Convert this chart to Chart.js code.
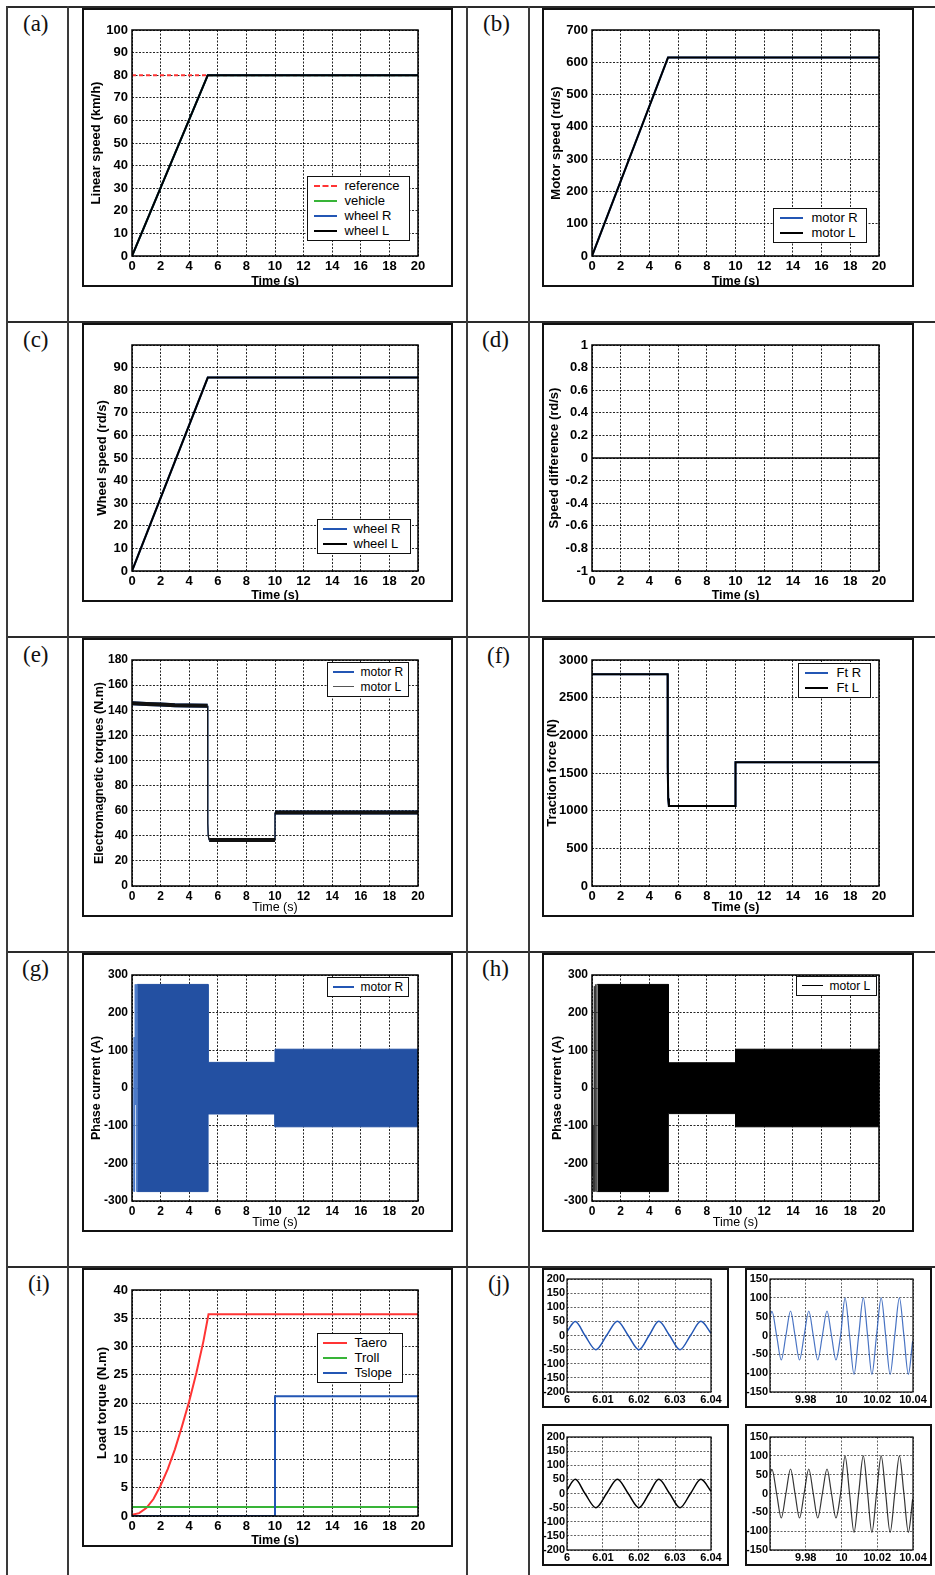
<!DOCTYPE html>
<html>
<head>
<meta charset="utf-8">
<script src="https://cdn.jsdelivr.net/npm/chart.js@4.4.1/dist/chart.umd.min.js"></script>
<style>
  body { margin: 0; background: #fff; }
  #page { position: relative; width: 935px; height: 1575px; overflow: hidden; background: #fff; }
  .line { position: absolute; background: #2a2a2a; }
  .frame { position: absolute; border: 2px solid #111; box-sizing: border-box; background: #fff; }
  .frame canvas { position: absolute; left: 0; top: 0; }
  .tag { position: absolute; font-family: 'Liberation Serif', 'DejaVu Serif', serif; font-size: 23px; line-height: 1; color: #111; }
  .legend { position: absolute; border: 1.5px solid #111; background: #fff; box-sizing: border-box;
            padding: 1px 0 2px; font-family: 'Liberation Sans', Arial, sans-serif; color: #000; }
  .legend .row { display: flex; align-items: center; height: 15px; white-space: nowrap; }
  .legend .swatch { height: 0; }
</style>
</head>
<body>
<div id="page"></div>
<script>
// ---------- data ----------
// (a) linear speed, km/h
const refTime = [0, 20];
const refSpeed = [80, 80];
const rampTime = [0, 5.3, 20];
const vehicleSpeed = [0, 80, 80];
const wheelRKmh = [0, 80, 80];
const wheelLKmh = [0, 80, 80];

// (b) motor speed, rd/s
const motorRSpeed = [0, 615, 615];
const motorLSpeed = [0, 615, 615];

// (c) wheel speed, rd/s
const wheelRSpeed = [0, 85.6, 85.6];
const wheelLSpeed = [0, 85.6, 85.6];

// (d) speed difference
const diffTime = [0, 20];
const diffSpeed = [0, 0];

// (e) electromagnetic torques, N.m
const torqueTime = [0, 1, 2, 3, 4, 5.29, 5.3, 5.33, 5.4, 10, 10, 20];
const torqueR = [145.5, 145, 144.5, 144, 143.8, 143.5, 50, 40, 36.6, 36.6, 58.5, 58.5];
const torqueL = [145.5, 145, 144.5, 144, 143.8, 143.5, 50, 40, 36.6, 36.6, 58.5, 58.5];

// (f) traction force, N
const forceTime = [0, 5.27, 5.28, 5.31, 5.36, 10, 10, 20];
const forceR = [2810, 2810, 1580, 1160, 1062, 1062, 1642, 1642];
const forceL = [2810, 2810, 1580, 1160, 1062, 1062, 1642, 1642];

// (g), (h) phase current envelopes, A
const envTime = [0.37, 5.32, 5.32, 10, 10, 20];
const phaseRUpper = [275, 275, 68, 68, 103, 103];
const phaseRLower = [-275, -275, -69, -69, -103, -103];
const startTimeR = [0, 0.05, 0.09, 0.14, 0.18, 0.22, 0.26, 0.3, 0.34, 0.37];
const startCurrentR = [0, -190, -275, 135, -275, 275, -45, 275, -275, 275];
const phaseLUpper = [275, 275, 67, 67, 103, 103];
const phaseLLower = [-275, -275, -68, -68, -103, -103];
const startTimeL = [0, 0.04, 0.08, 0.12, 0.16, 0.2, 0.24, 0.28, 0.32, 0.37];
const startCurrentL = [0, -230, -100, -275, 270, -275, 275, -275, 275, 275];

// (i) load torques, N.m
const aeroTime = [0, 0.5, 1, 1.5, 2, 2.5, 3, 3.5, 4, 4.5, 5, 5.35, 20];
const aeroTorque = [0.2, 0.5, 1.4, 3.0, 5.4, 8.3, 11.8, 15.9, 20.3, 25.3, 31.0, 35.7, 35.7];
const rollTime = [0, 20];
const rollTorque = [1.6, 1.6];
const slopeTime = [0, 10, 10, 20];
const slopeTorque = [0, 0, 21.2, 21.2];

// (j) zoomed phase currents around t = 6 s and t = 10 s
const zoom6Time = [6.000, 6.0023, 6.005, 6.008, 6.011, 6.014, 6.017, 6.020, 6.0228, 6.0255, 6.0285, 6.0314, 6.0343, 6.0372, 6.040];
const zoom6R = [14, 50, 0, -50, 0, 50, 0, -50, 0, 50, 0, -50, 0, 50, 8];
const zoom6L = [13, 50, 0, -50, 0, 50, 0, -50, 0, 50, 0, -50, 0, 50, 8];
const zoom10Time = [9.9602, 9.9611, 9.9637, 9.9663, 9.9689, 9.9715, 9.9740, 9.9765, 9.9791, 9.9817, 9.9842,
  9.9867, 9.9893, 9.9919, 9.9944, 9.9969, 9.9995, 10.0020, 10.0045, 10.0070, 10.0096, 10.0122, 10.0146,
  10.0170, 10.0196, 10.0222, 10.0247, 10.0272, 10.0298, 10.0324, 10.0349, 10.0374, 10.0398];
const zoom10R = [55, 64, 0, -65, 0, 65, 0, -65, 0, 65, 0, -65, 0, 65, 0, -65, 0, 99, 0, -103, 0, 100, 0,
  -103, 0, 100, 0, -103, 0, 100, 0, -103, -15];
const zoom10L = [55, 64, 0, -65, 0, 65, 0, -65, 0, 65, 0, -65, 0, 65, 0, -65, 0, 99, 0, -103, 0, 100, 0,
  -103, 0, 100, 0, -103, 0, 100, 0, -103, -15];

// ---------- styling ----------
const FONT = "'Liberation Sans', Arial, Helvetica, sans-serif";
const RED = '#ff3434';
const GREEN = '#38b438';
const BLUE = '#2356b4';
const BAND_BLUE = '#2350a2';

Chart.defaults.font.family = FONT;
Chart.defaults.color = '#000';
Chart.defaults.animation = false;
Chart.defaults.plugins.legend.display = false;
Chart.defaults.plugins.tooltip.enabled = false;

// solid box round the plot area, like a MATLAB axes
Chart.register({
  id: 'axesBox',
  afterDatasetsDraw(chart) {
    const { ctx, chartArea: a } = chart;
    ctx.save();
    ctx.strokeStyle = '#000';
    ctx.lineWidth = chart.canvas.width < 250 ? 1.2 : 1.5;
    ctx.strokeRect(a.left, a.top, a.right - a.left, a.bottom - a.top);
    ctx.restore();
  }
});

const page = document.getElementById('page');

function el(cls, css, text) {
  const d = document.createElement('div');
  d.className = cls;
  Object.assign(d.style, css);
  if (text) d.textContent = text;
  page.appendChild(d);
  return d;
}

// table rules
[7, 322, 637, 952, 1267].forEach(y => el('line', { left: '7px', top: (y - 1) + 'px', width: '928px', height: '2px' }));
[7, 68, 467, 529].forEach(x => el('line', { left: (x - 1) + 'px', top: '6px', width: '2px', height: '1569px', background: '#3a3a3a' }));

// panel tags
[['(a)', 23, 12], ['(b)', 483, 12], ['(c)', 23, 328], ['(d)', 482, 328], ['(e)', 23, 643],
 ['(f)', 487, 644], ['(g)', 22, 957], ['(h)', 482, 957], ['(i)', 28, 1272], ['(j)', 488, 1272]]
  .forEach(([t, x, y]) => el('tag', { left: x + 'px', top: y + 'px' }, t));

function pts(xs, ys) {
  return xs.map((x, i) => ({ x, y: ys[i] }));
}

function line(label, xs, ys, color, width, extra) {
  return Object.assign({
    label, data: pts(xs, ys), borderColor: color, backgroundColor: color,
    borderWidth: width, pointRadius: 0, fill: false, tension: 0
  }, extra || {});
}

const fmt = v => String(+(+v).toFixed(3));

function addFrame(x, y, w, h) {
  const f = el('frame', { left: x + 'px', top: y + 'px', width: w + 'px', height: h + 'px' });
  const c = document.createElement('canvas');
  c.width = w - 4;
  c.height = h - 4;
  f.appendChild(c);
  return c;
}

function axis(o) {
  return {
    type: 'linear', min: o.min, max: o.max,
    ticks: {
      stepSize: o.step, autoSkip: false, maxRotation: 0, padding: o.tickPad,
      color: '#000', font: o.tickFont, callback: o.cb || fmt
    },
    grid: { color: o.gridColor, lineWidth: 1, drawTicks: false },
    border: { display: false, dash: [2, 1.5] },
    title: o.title
      ? { display: true, text: o.title, color: '#000', font: o.titleFont, padding: o.titlePad }
      : { display: false },
    afterFit: o.fit
  };
}

function plotPanel(frame, p) {
  const canvas = addFrame(...frame);
  const small = !!p.small;
  const tickFont = small ? { size: 11, weight: 'bold' } : { size: p.tickSize || 13, weight: 'bold' };
  const gridColor = small ? 'rgba(0,0,0,0.6)' : 'rgba(0,0,0,0.85)';
  const pad = p.pad || [48, 20, 33, 29];   // left, top, right, bottom
  const ySize = p.yTitleSize || 13;
  const xSize = 12.5;
  p.datasets.forEach((d, i) => { d.order = p.datasets.length - i; });
  const chart = new Chart(canvas, {
    type: 'line',
    data: { datasets: p.datasets },
    options: {
      responsive: false,
      layout: { padding: { left: 0, top: pad[1], right: pad[2], bottom: 0 } },
      scales: {
        x: axis({
          min: p.x ? p.x.min : 0, max: p.x ? p.x.max : 20, step: p.x ? p.x.step : 2,
          cb: p.x && p.x.cb, tickPad: small ? 1 : 3, tickFont, gridColor,
          title: small ? null : 'Time (s)',
          titleFont: { size: xSize, weight: p.xTitleWeight || 'bold', lineHeight: 1 },
          titlePad: { top: 0, bottom: (p.xOff || 3) - xSize / 2 },
          fit: s => { s.height = pad[3]; }
        }),
        y: axis({
          min: p.y.min, max: p.y.max, step: p.y.step, cb: p.y.cb,
          tickPad: small ? 2 : 4, tickFont, gridColor,
          title: p.yTitle,
          titleFont: { size: ySize, weight: 'bold', lineHeight: 1 },
          titlePad: { top: (p.yOff || 12) - ySize / 2, bottom: 0 },
          fit: s => { s.width = pad[0]; }
        })
      }
    }
  });
  if (p.legend) addLegend(chart, p.legend);
  return chart;
}

// legend box: [left, top, width, font size, swatch left margin, swatch width, gap to text]
function addLegend(chart, [x, y, w, size, ml, sw, gap]) {
  const box = el('legend', { left: x + 'px', top: y + 'px', width: w + 'px', fontSize: size + 'px' });
  chart.data.datasets.filter(d => d.inLegend !== false)
    .sort((a, b) => b.order - a.order)
    .forEach(d => {
      const row = document.createElement('div');
      row.className = 'row';
      const s = document.createElement('span');
      s.className = 'swatch';
      s.style.width = sw + 'px';
      s.style.margin = '0 ' + gap + 'px 0 ' + ml + 'px';
      const width = d.legendWidth || Math.min(d.borderWidth, 2);
      s.style.borderTop = width + 'px ' + (d.borderDash ? 'dashed ' : 'solid ') + (d.legendColor || d.borderColor);
      const tx = document.createElement('span');
      tx.textContent = d.label;
      row.append(s, tx);
      box.appendChild(row);
    });
}

const steep = c => Math.abs(c.p1.parsed.y - c.p0.parsed.y) > 3 ? 1.2 : undefined;

// (a)
plotPanel([82, 8, 371, 279], {
  y: { min: 0, max: 100, step: 10 }, yTitle: 'Linear speed (km/h)', yOff: 12, xOff: 3,
  datasets: [
    line('reference', refTime, refSpeed, RED, 2, { borderDash: [4, 3] }),
    line('vehicle', rampTime, vehicleSpeed, GREEN, 2),
    line('wheel R', rampTime, wheelRKmh, BLUE, 2),
    line('wheel L', rampTime, wheelLKmh, '#000', 2)
  ],
  legend: [307, 176, 103, 13, 5.5, 23, 8]
});

// (b)
plotPanel([542, 8, 372, 279], {
  y: { min: 0, max: 700, step: 100 }, yTitle: 'Motor speed (rd/s)', yOff: 12, xOff: 3,
  datasets: [
    line('motor R', rampTime, motorRSpeed, BLUE, 2),
    line('motor L', rampTime, motorLSpeed, '#000', 2)
  ],
  legend: [773, 208, 94, 13, 5.5, 23, 9]
});

// (c)
plotPanel([82, 323, 371, 279], {
  y: { min: 0, max: 100, step: 10, cb: v => (v >= 100 ? '' : fmt(v)) },
  yTitle: 'Wheel speed (rd/s)', yOff: 18, xOff: 4,
  datasets: [
    line('wheel R', rampTime, wheelRSpeed, BLUE, 2),
    line('wheel L', rampTime, wheelLSpeed, '#000', 2)
  ],
  legend: [317, 519, 94, 13, 4.5, 24, 7]
});

// (d)
plotPanel([542, 323, 372, 279], {
  y: { min: -1, max: 1, step: 0.2 }, yTitle: 'Speed difference (rd/s)', yOff: 10, xOff: 4,
  datasets: [line('difference', diffTime, diffSpeed, '#000', 1.5)]
});

// (e)
plotPanel([82, 638, 371, 279], {
  y: { min: 0, max: 180, step: 20 }, yTitle: 'Electromagnetic torques (N.m)', yOff: 16, xOff: 7,
  yTitleSize: 12.5, tickSize: 12, xTitleWeight: 'normal',
  datasets: [
    line('motor R', torqueTime, torqueR, BLUE, 4, { segment: { borderWidth: steep }, legendWidth: 2 }),
    line('motor L', torqueTime, torqueL, '#111', 4, { segment: { borderWidth: steep }, legendColor: '#555', legendWidth: 1 })
  ],
  legend: [327, 662, 82, 12, 4.5, 21, 7]
});

// (f)
plotPanel([542, 638, 372, 279], {
  y: { min: 0, max: 3000, step: 500 }, yTitle: 'Traction force (N)', yOff: 8, xOff: 7,
  datasets: [
    line('Ft R', forceTime, forceR, BLUE, 2),
    line('Ft L', forceTime, forceL, '#000', 2)
  ],
  legend: [798, 663, 73, 13, 5.5, 23, 9]
});

// (g)
plotPanel([82, 953, 371, 279], {
  y: { min: -300, max: 300, step: 100 }, yTitle: 'Phase current (A)', yOff: 13, xOff: 7,
  yTitleSize: 12.5, tickSize: 12, xTitleWeight: 'normal',
  datasets: [
    line('startup R', startTimeR, startCurrentR, '#4a78c8', 0.8, { inLegend: false }),
    line('motor R', envTime, phaseRUpper, BAND_BLUE, 1, { fill: '+1', legendColor: BLUE, legendWidth: 2 }),
    line('lower R', envTime, phaseRLower, BAND_BLUE, 1, { inLegend: false })
  ],
  legend: [327, 977, 82, 12, 4.5, 21, 7]
});

// (h)
plotPanel([542, 953, 372, 279], {
  y: { min: -300, max: 300, step: 100 }, yTitle: 'Phase current (A)', yOff: 14, xOff: 7,
  yTitleSize: 12.5, tickSize: 12, xTitleWeight: 'normal',
  datasets: [
    line('startup L', startTimeL, startCurrentL, '#333', 0.8, { inLegend: false }),
    line('motor L', envTime, phaseLUpper, '#000', 1, { fill: '+1', legendWidth: 1.5 }),
    line('lower L', envTime, phaseLLower, '#000', 1, { inLegend: false })
  ],
  legend: [796, 976, 81, 12, 4.5, 21, 7]
});

// (i)
plotPanel([82, 1268, 371, 279], {
  y: { min: 0, max: 40, step: 5 }, yTitle: 'Load torque (N.m)', yOff: 18, xOff: 4,
  datasets: [
    line('Taero', aeroTime, aeroTorque, RED, 2),
    line('Troll', rollTime, rollTorque, GREEN, 2),
    line('Tslope', slopeTime, slopeTorque, BLUE, 2)
  ],
  legend: [317, 1333, 86, 13, 4.5, 24, 8]
});

// (j) four zoomed windows
const wave = { cubicInterpolationMode: 'monotone' };
const x6 = { min: 6, max: 6.04, step: 0.01 };
const x10 = { min: 9.96, max: 10.04, step: 0.02, cb: v => (v < 9.97 ? '' : fmt(v)) };

plotPanel([542, 1268, 187, 140], {
  small: true, pad: [23, 9, 16, 14], x: x6, y: { min: -200, max: 200, step: 50 },
  datasets: [line('motor R 6 s', zoom6Time, zoom6R, BLUE, 1.5, wave)]
});
plotPanel([745, 1268, 187, 140], {
  small: true, pad: [23, 9, 17, 14], x: x10, y: { min: -150, max: 150, step: 50 },
  datasets: [line('motor R 10 s', zoom10Time, zoom10R, 'rgba(40,90,185,0.85)', 1.2, wave)]
});
plotPanel([542, 1424, 187, 142], {
  small: true, pad: [23, 11, 16, 14], x: x6, y: { min: -200, max: 200, step: 50 },
  datasets: [line('motor L 6 s', zoom6Time, zoom6L, '#000', 1.5, wave)]
});
plotPanel([745, 1424, 187, 142], {
  small: true, pad: [23, 11, 17, 14], x: x10, y: { min: -150, max: 150, step: 50 },
  datasets: [line('motor L 10 s', zoom10Time, zoom10L, 'rgba(0,0,0,0.8)', 1.2, wave)]
});
</script>
</body>
</html>
